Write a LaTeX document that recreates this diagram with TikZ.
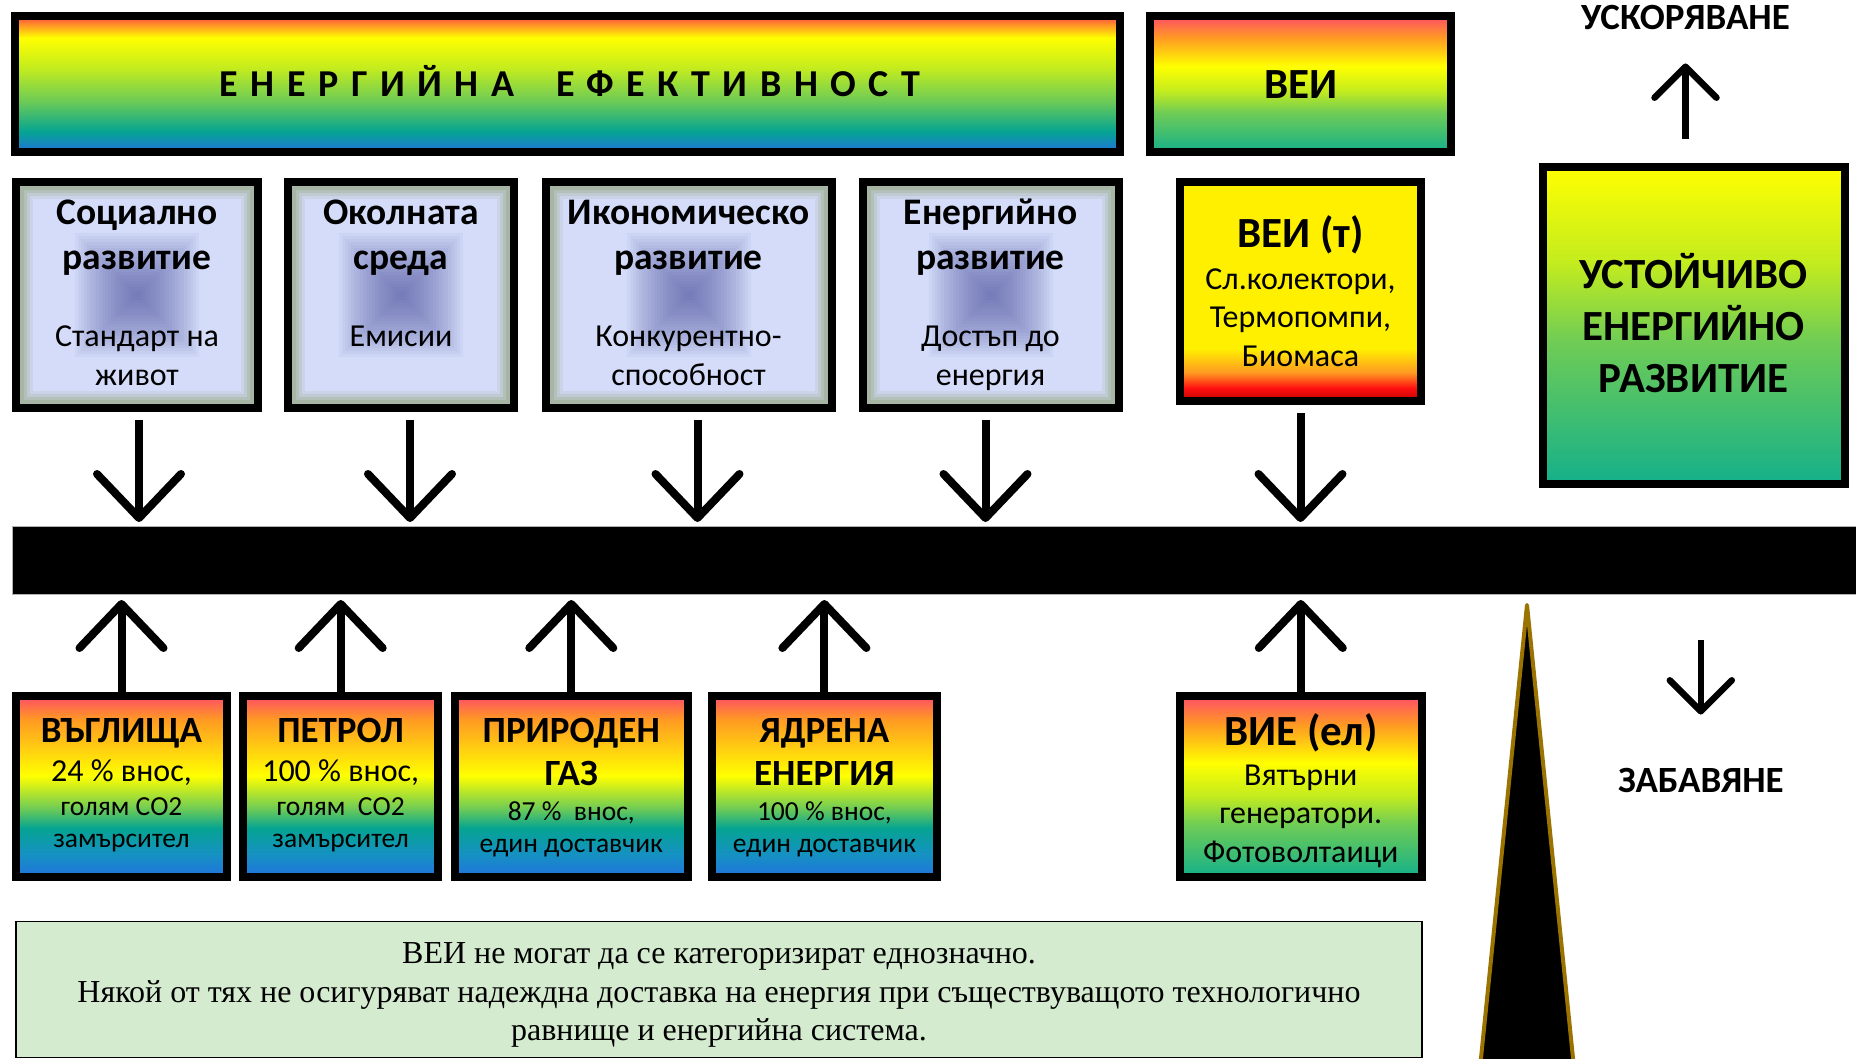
\documentclass[tikz,border=0pt]{standalone}
\usepackage{fontspec}
\setmainfont{Liberation Serif}
\newfontfamily\calfont{Carlito}
\newfontfamily\spacedfont[LetterSpace=33]{Carlito}
\usetikzlibrary{arrows.meta,calc}

\definecolor{rbred}{HTML}{FF4545}
\definecolor{rbpink}{HTML}{FF4D68}
\definecolor{rborange}{HTML}{FF9A22}
\definecolor{rbyellow}{HTML}{FFFF00}
\definecolor{rblime}{HTML}{C4EC1E}
\definecolor{rbgreen}{HTML}{6FCC55}
\definecolor{rbteal}{HTML}{05A492}
\definecolor{rbcyan}{HTML}{1690C4}
\definecolor{rbblue}{HTML}{2272DD}
\definecolor{vteal}{HTML}{14B08A}
\definecolor{tyellow}{HTML}{FFF000}
\definecolor{tred}{HTML}{FF1010}
\definecolor{tdark}{HTML}{C00000}
\definecolor{lavender}{HTML}{D4DCFA}
\definecolor{framea}{HTML}{A7B6A4}
\definecolor{frameb}{HTML}{B3C0BA}
\definecolor{framec}{HTML}{C0CAD2}
\definecolor{framed}{HTML}{CBD3E8}
\definecolor{blob}{HTML}{5055A1}
\definecolor{notegreen}{HTML}{D5EBD0}
\definecolor{gold}{HTML}{9A7300}

% vertical shadings, bottom colour first (path fits 25bp..75bp)
\pgfdeclareverticalshading{effshade}{100bp}{color(0bp)=(rbblue); color(25bp)=(rbblue); color(32.5bp)=(rbteal); color(44bp)=(rbgreen); color(56bp)=(rblime); color(67bp)=(rbyellow); color(71.5bp)=(rborange); color(75bp)=(rbred); color(100bp)=(rbred)}
\pgfdeclareverticalshading{fuelshade}{100bp}{color(0bp)=(rbblue); color(25bp)=(rbblue); color(31bp)=(rbcyan); color(38.5bp)=(rbteal); color(44bp)=(rbgreen); color(53bp)=(rbyellow); color(68.5bp)=(rborange); color(75bp)=(rbpink); color(100bp)=(rbpink)}
\pgfdeclareverticalshading{veishade}{100bp}{color(0bp)=(vteal); color(25bp)=(vteal); color(39.5bp)=(rbgreen); color(47.5bp)=(rblime); color(56.5bp)=(rbyellow); color(67bp)=(rborange); color(75bp)=(rbpink); color(100bp)=(rbpink)}
\pgfdeclareverticalshading{veitshade}{100bp}{color(0bp)=(tdark); color(25bp)=(tdark); color(28bp)=(tred); color(31.5bp)=(rborange); color(37bp)=(tyellow); color(75bp)=(tyellow); color(100bp)=(tyellow)}
\pgfdeclareverticalshading{sustshade}{100bp}{color(0bp)=(vteal); color(25bp)=(vteal); color(47.5bp)=(rbgreen); color(60bp)=(rblime); color(75bp)=(rbyellow); color(100bp)=(rbyellow)}

\begin{document}
\begin{tikzpicture}[x=1pt, y=-1pt,
    box/.style={draw, line width=8pt, inner sep=0pt},
    factor/.style={box, fill=framea, minimum height=226pt,
        path picture={
            \foreach \d/\c in {8/frameb,11/framec,14/framed,17/lavender}
                \fill[\c] ([shift={(\d pt,\d pt)}]path picture bounding box.south west)
                    rectangle ([shift={(-\d pt,-\d pt)}]path picture bounding box.north east);
            \foreach \k in {62,59,...,2}
                \fill[blob, opacity=0.05] ([shift={(-\k pt,-\k pt)}]path picture bounding box.center)
                    rectangle ([shift={(\k pt,\k pt)}]path picture bounding box.center);
        }},
    fuel/.style={box, shade, shading=fuelshade, minimum height=181pt},
    % multi-line nodes: base = baseline of the last line
    boldtext/.style={anchor=base, align=center, inner sep=0pt, font=\calfont\bfseries\fontsize{37.5}{45}\selectfont},
    fueltext/.style={anchor=base, align=center, inner sep=0pt, font=\calfont\bfseries\fontsize{37}{43}\selectfont},
    bigtext/.style={anchor=base, align=center, inner sep=0pt, font=\calfont\bfseries\fontsize{43}{52}\selectfont},
    labeltext/.style={anchor=base, inner sep=0pt, font=\calfont\bfseries\fontsize{37}{42}\selectfont},
    plaintext/.style={anchor=base, align=center, inner sep=0pt, font=\calfont\fontsize{32}{38.5}\selectfont},
    smalltext/.style={anchor=base, align=center, inner sep=0pt, font=\calfont\fontsize{27.5}{32}\selectfont},
    downarrow/.style={line width=8pt, shorten <=8pt, shorten >=4pt, -{Straight Barb[length=44pt, width=84pt, round]}},
    uparrow/.style={line width=8pt, shorten >=6pt, -{Straight Barb[length=44pt, width=84pt, round]}},
    speedarrow/.style={line width=6.5pt, -{Straight Barb[length=31pt, width=62pt, round]}}]

    \useasboundingbox (0,0) rectangle (1856,1059);

    % top row
    \node[box, shade, shading=effshade, minimum width=1105pt, minimum height=136pt] (ee) at (567.5,84) {};
    \node[font=\spacedfont\bfseries\fontsize{38}{45}\selectfont, anchor=base, inner sep=0pt] (eeT) at (570,96.7) {ЕНЕРГИЙНА\ \ ЕФЕКТИВНОСТ};
    \node[box, shade, shading=veishade, minimum width=301pt, minimum height=136pt] (vei) at (1300.8,84) {};
    \node[bigtext] (veiT) at (1300.8,98.3) {ВЕИ};

    % factors
    \node[factor, minimum width=242pt] (soc) at (137,295) {};
    \node[factor, minimum width=226pt] (env) at (401,295) {};
    \node[factor, minimum width=286pt] (econ) at (688.5,295) {};
    \node[factor, minimum width=256pt] (enr) at (990.5,295) {};

    \node[boldtext] (socT) at (137,270) {Социално\\развитие};
    \node[plaintext] (socS) at (137,385) {Стандарт на\\живот};
    \node[boldtext] (envT) at (401,270) {Околната\\среда};
    \node[plaintext] (envS) at (401,347) {Емисии};
    \node[boldtext] (econT) at (688.5,270) {Икономическо\\развитие};
    \node[plaintext] (econS) at (688.5,385) {Конкурентно-\\способност};
    \node[boldtext] (enrT) at (990.5,270) {Енергийно\\развитие};
    \node[plaintext] (enrS) at (990.5,385) {Достъп до\\енергия};

    \node[box, shade, shading=veitshade, minimum width=241pt, minimum height=219pt] (veit) at (1300.5,291.5) {};
    \node[bigtext] (veitT) at (1300.5,248) {ВЕИ (т)};
    \node[plaintext] (veitS) at (1300.5,366.5) {Сл.колектори,\\Термопомпи,\\Биомаса};

    % right column
    \node[box, shade, shading=sustshade, minimum width=302pt, minimum height=317pt] (sust) at (1694,325.5) {};
    \node[bigtext] (sustT) at (1693.5,392) {УСТОЙЧИВО\\ЕНЕРГИЙНО\\РАЗВИТИЕ};
    \node[labeltext] (accel) at (1685.5,30) {УСКОРЯВАНЕ};
    \node[labeltext] (slow) at (1700.8,792) {ЗАБАВЯНЕ};
    \coordinate (slowtop) at (1700.8,640);

    % bar
    \node[fill=black, draw=gray!60, line width=1pt, inner sep=0pt, outer sep=0pt,
        minimum width=1844pt, minimum height=68pt] (bar) at (934,560) {};

    % sources
    \node[fuel, minimum width=211pt] (coal) at (121.5,786.5) {};
    \node[fuel, minimum width=195.5pt] (oil) at (340.7,786.5) {};
    \node[fuel, minimum width=232.6pt] (gas) at (571.3,786.5) {};
    \node[fuel, minimum width=225.8pt] (nuc) at (824.4,786.5) {};
    \node[fuel, shading=veishade, minimum width=241.6pt] (vie) at (1300.8,786.5) {};

    \node[fueltext] (coalT) at (121.5,742) {ВЪГЛИЩА};
    \node[plaintext] (coalA) at (121.5,781) {24 \% внос,};
    \node[smalltext] (coalB) at (121.5,847) {голям СО2\\замърсител};
    \node[fueltext] (oilT) at (340.7,742) {ПЕТРОЛ};
    \node[plaintext] (oilA) at (340.7,781) {100 \% внос,};
    \node[smalltext] (oilB) at (340.7,847) {голям\ \ СО2\\замърсител};
    \node[fueltext] (gasT) at (571.3,785) {ПРИРОДЕН\\ГАЗ};
    \node[smalltext] (gasS) at (571.3,852) {87 \%\ \ внос,\\един доставчик};
    \node[fueltext] (nucT) at (824.4,785) {ЯДРЕНА\\ЕНЕРГИЯ};
    \node[smalltext] (nucS) at (824.4,852) {100 \% внос,\\един доставчик};
    \node[bigtext] (vieT) at (1300.8,745) {ВИЕ (ел)};
    \node[plaintext] (vieS) at (1300.8,862) {Вятърни\\генератори.\\Фотоволтаици};

    % arrows to the bar
    \foreach \b/\dx in {soc/2,env/9,econ/9,enr/-5,veit/0}
        \draw[downarrow] ($(\b.south)+(\dx,0)$) -- ($(\b.south |- bar.north)+(\dx,0)$);
    \foreach \b in {coal,oil,gas,nuc,vie}
        \draw[uparrow] (\b.north) -- (\b.north |- bar.south);

    \draw[speedarrow, shorten <=24pt, shorten >=33pt] (sust.north -| accel) -- (accel.south);
    \draw[speedarrow, shorten >=53pt] (slowtop) -- (slow.north);

    % wedge
    \filldraw[fill=black, draw=gold, line width=4pt, line join=round]
        (1527,605) -- (1574,1068) -- (1480,1068) -- cycle;

    % note
    \node[draw, line width=1.5pt, fill=notegreen, minimum width=1406pt, minimum height=136pt] (note) at (719,989.7) {};
    \node[anchor=base, align=center, inner sep=0pt, font=\fontsize{32}{38.5}\selectfont] (noteT) at (719,1040.5)
        {ВЕИ не могат да се категоризират еднозначно.\\Някой от тях не осигуряват надеждна доставка на енергия при съществуващото технологично\\равнище и енергийна система.};
\end{tikzpicture}
\end{document}
